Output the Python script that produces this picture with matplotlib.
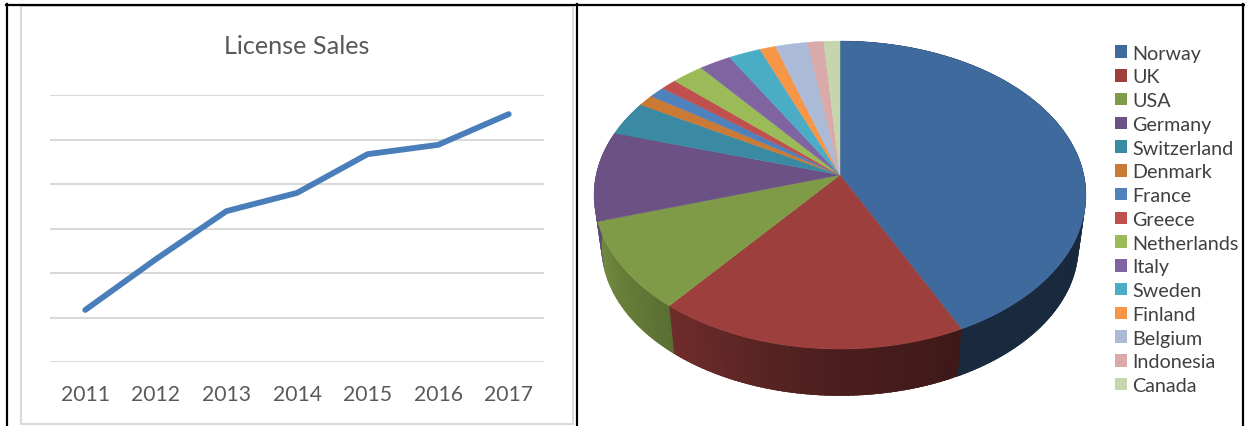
import numpy as np
import matplotlib
matplotlib.use("Agg")
import matplotlib.pyplot as plt
from matplotlib.patches import Patch
from matplotlib.colors import to_rgb

plt.rcParams['font.family'] = ['Lato', 'DejaVu Sans']

# ---- data ----
years = ['2011', '2012', '2013', '2014', '2015', '2016', '2017']
sales = [1.17, 2.31, 3.39, 3.80, 4.67, 4.88, 5.57]
countries = ['Norway', 'UK', 'USA', 'Germany', 'Switzerland', 'Denmark', 'France', 'Greece',
             'Netherlands', 'Italy', 'Sweden', 'Finland', 'Belgium', 'Indonesia', 'Canada']
shares = [42.8, 18.1, 9.4, 9.4, 3.6, 1.2, 1.2, 1.2, 2.4, 2.4, 2.4, 1.2, 2.4, 1.2, 1.2]
colors = ['#3f6a9e', '#9c3f3d', '#7f9b47', '#6b5184', '#3a8aa3', '#cb7a35', '#4f81bd', '#c0504d',
          '#9bbb59', '#8064a2', '#4bacc6', '#f79646', '#aabad7', '#d9aaa9', '#c6d6ac']

W, H = 1245, 427
fig = plt.figure(figsize=(W / 100, H / 100), dpi=100, facecolor='white')

# pixel-space layer: panel frames + pie
bg = fig.add_axes([0, 0, 1, 1])
bg.set_xlim(0, W)
bg.set_ylim(H, 0)
bg.axis('off')

bg.plot([21, 21, 573, 573, 21], [7, 425, 425, 7, 7], color='#d9d9d9', lw=1.5, zorder=1)
bg.plot([7, 7], [5, H], color='black', lw=1.6, zorder=2)
bg.plot([576.5, 576.5], [5, H], color='black', lw=1.6, zorder=2)
bg.plot([1243, 1243], [5, H], color='black', lw=1.6, zorder=2)
bg.plot([6, 1244], [6, 6], color='black', lw=1.6, zorder=2)

# line chart
ax = fig.add_axes([50 / W, 1 - 363 / H, 494 / W, (362 - 95) / H])
ax.patch.set_alpha(0)
ax.set_xlim(-0.5, 6.5)
ax.set_ylim(0, 6)
ax.plot(range(len(years)), sales, color='#4a7ebb', lw=4.2, solid_capstyle='round',
        solid_joinstyle='round', zorder=3)
ax.set_xticks(range(len(years)))
ax.set_xticklabels(years, color='#595959', fontsize=15.2)
ax.set_yticks(range(7))
ax.set_yticklabels([])
ax.tick_params(length=0, pad=15.5)
ax.grid(axis='y', color='#d9d9d9', lw=1.5)
ax.set_axisbelow(True)
for s in ax.spines.values():
    s.set_visible(False)
fig.text(297 / W, 1 - 46.5 / H, 'License Sales', color='#595959', fontsize=18.2,
         ha='center', va='center')

# perspective pie
CX, CY, A, B, K = 840.0, 176.0, 151.4, 243.9, 0.13


def project(theta_deg, scale=1.0, dy=0.0):
    t = np.radians(theta_deg)
    d = 1 + K * np.cos(t)
    return CX + scale * B * np.sin(t) / d, CY + dy - scale * A * np.cos(t) / d


def mix(color, f):
    return tuple(c * f for c in to_rgb(color))


total = sum(shares)
edges = np.concatenate([[0], np.cumsum(shares)]) / total * 360

# side wall: overlapping strips so no seams show
for i, col in enumerate(colors):
    a0, a1 = edges[i], edges[i + 1]
    if a0 > 300:
        continue
    steps = np.append(np.arange(a0, a1, 1.0), a1)
    for s0, s1 in zip(steps[:-1], steps[1:]):
        f = np.interp((s0 + s1) / 2, [90, 155, 185, 217, 252, 290], [.38, .40, .50, .70, .90, .90])
        end = s1 + 1.5 if s1 < a1 else s1
        th = np.array([s0, end])
        x0, y0 = project(th)
        x1, y1 = project(th[::-1], 0.97, 52)
        bg.fill(np.r_[x0, x1], np.r_[y0, y1], color=mix(col, f), lw=0, zorder=3)

# top face
for i, col in enumerate(colors):
    th = np.linspace(edges[i], edges[i + 1], 80)
    x, y = project(th)
    bg.fill(np.r_[CX, x], np.r_[CY, y], color=col, lw=0.3, zorder=4)

handles = [Patch(facecolor=c, edgecolor='none') for c in colors]
bg.legend(handles, countries, loc='upper left', bbox_to_anchor=(1115 / W, 1 - 45.7 / H),
          bbox_transform=fig.transFigure, frameon=False, fontsize=14.2, labelcolor='#404040',
          handlelength=0.6, handleheight=0.6, handletextpad=0.26, labelspacing=0.342,
          borderpad=0, borderaxespad=0)

fig.savefig('out.png', dpi=100)
